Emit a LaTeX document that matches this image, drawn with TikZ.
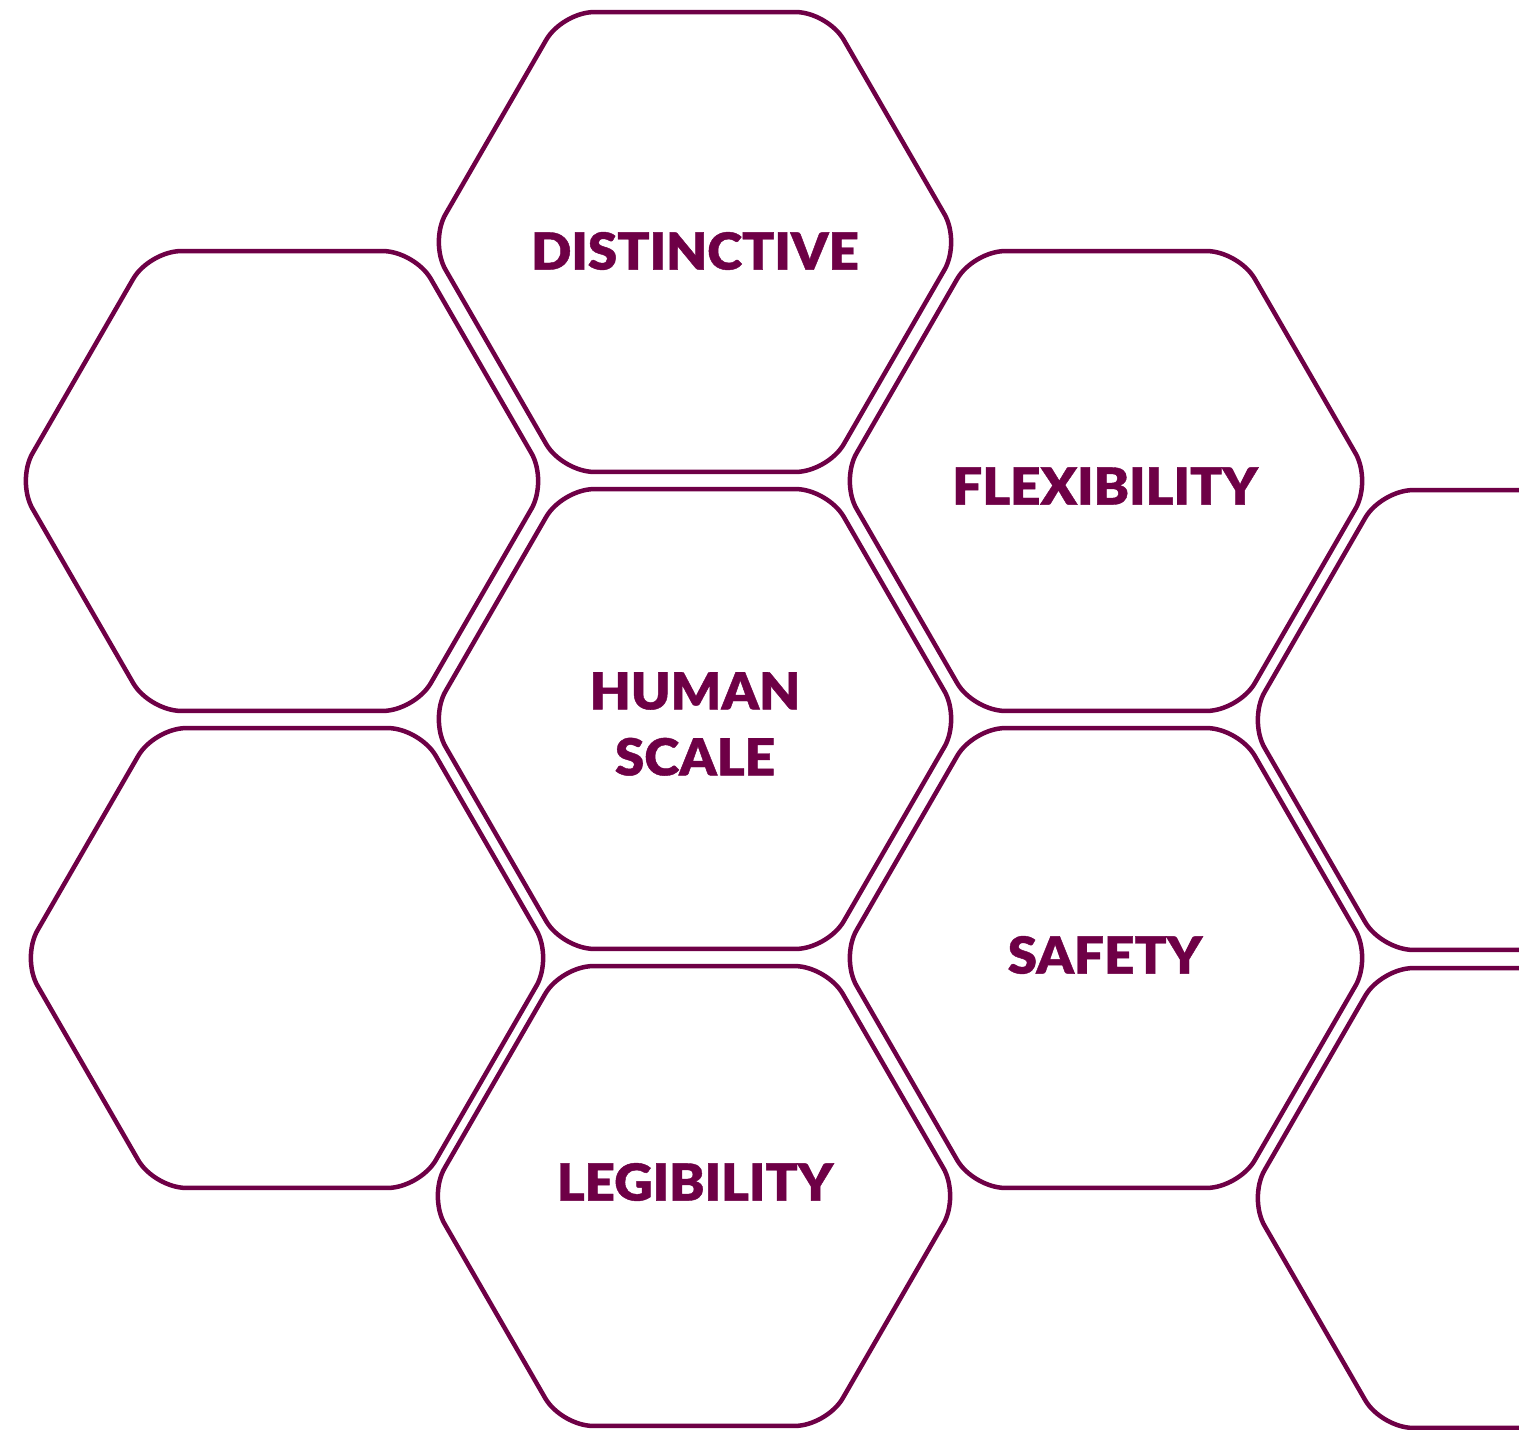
\documentclass[tikz,border=0pt]{standalone}
\usepackage{fontspec}
\setmainfont{Lato}[BoldFont={Lato Black},BoldFeatures={FakeBold=0.8}]
\usetikzlibrary{shapes.geometric}
\definecolor{plum}{HTML}{6E0046}
\tikzset{
  hexa/.style={regular polygon, regular polygon sides=6, minimum size=531pt,
    inner sep=0pt, draw=plum, line width=4.5pt, rounded corners=32pt},
  lbl/.style={text=plum, font=\fontsize{51}{66}\selectfont\bfseries, inner sep=0pt, align=center}
}
\newcommand{\wide}[1]{\scalebox{1.04}[1]{#1}}
\begin{document}
\begin{tikzpicture}[x=1pt,y=-1pt]
\useasboundingbox (0,0) rectangle (1519,1430);
\clip (0,0) rectangle (1519,1430);
\node[hexa] (h1) at (695,242) {};
\node[hexa] (h2) at (282,481) {};
\node[hexa] (h3) at (1106,481) {};
\node[hexa] (h4) at (695,719) {};
\node[hexa] (h5) at (287,958) {};
\node[hexa] (h6) at (1106,958) {};
\node[hexa] (h7) at (694,1196) {};
\node[hexa] (h8) at (1514,720) {};
\node[hexa] (h9) at (1514,1198) {};
\node[lbl] (t1) at (695,251) {\wide{DISTINCTIVE}};
\node[lbl] (t3) at (1105,486) {\wide{FLEXIBILITY}};
\node[lbl] (t4) at (695,724) {\wide{HUMAN}\\\wide{SCALE}};
\node[lbl] (t6) at (1105,955) {\wide{SAFETY}};
\node[lbl] (t7) at (695,1182) {\wide{LEGIBILITY}};
\end{tikzpicture}
\end{document}
